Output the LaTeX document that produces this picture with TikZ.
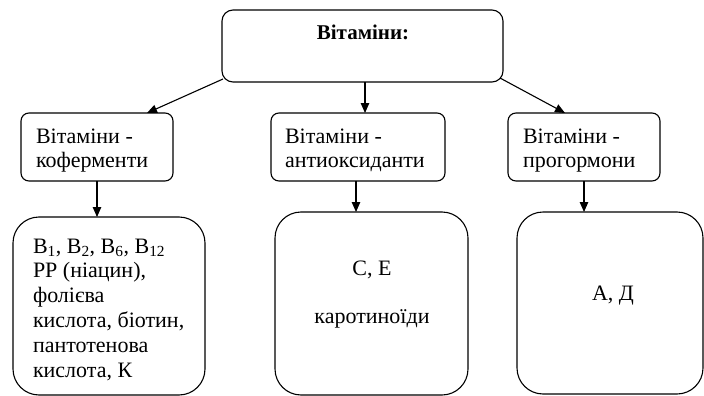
\documentclass[tikz,border=0pt]{standalone}
\usepackage{fontspec}
\setmainfont{Liberation Serif}
\usetikzlibrary{arrows.meta}
\begin{document}
\begin{tikzpicture}[x=1pt,y=-1pt,
  every node/.style={inner sep=0pt,outer sep=0pt},
  box/.style={draw,line width=1.1pt,rounded corners=#1},
  midbox/.style={box=8pt,minimum width=152pt,minimum height=68pt},
  conn/.style={line width=1.1pt,-{Triangle[length=10pt,width=8.5pt]}},
  txt/.style={font=\fontsize{22}{24.8}\selectfont}]
\useasboundingbox (0,0) rectangle (704,396);
% top
\node[box=11pt,minimum width=281pt,minimum height=72pt] (top) at (362.5,46) {};
\node[font=\bfseries\fontsize{21}{24}\selectfont,anchor=base] (toplbl) at (363,40) {Вітаміни:};
% middle row
\node[midbox] (mid1) at (97,147) {};
\node[midbox,minimum width=174pt] (mid2) at (358,147) {};
\node[midbox] (mid3) at (584,147) {};
\node[txt,align=left,anchor=base west] (m1a) at (36,143) {Вітаміни -};
\node[txt,align=left,anchor=base west] (m1b) at (36,167) {коферменти};
\node[txt,align=left,anchor=base west] (m2a) at (285,143) {Вітаміни -};
\node[txt,align=left,anchor=base west] (m2b) at (285,167) {антиоксиданти};
\node[txt,align=left,anchor=base west] (m3a) at (523,143) {Вітаміни -};
\node[txt,align=left,anchor=base west] (m3b) at (523,167) {прогормони};
% bottom row
\node[box=26pt,minimum width=192pt,minimum height=178pt] (bot1) at (109,306) {};
\node[box=26pt,minimum width=193pt,minimum height=183pt] (bot2) at (371.5,303.5) {};
\node[box=26pt,minimum width=186pt,minimum height=182pt] (bot3) at (610,303) {};
\node[txt,anchor=base west] (t1a) at (33,253) {B\textsubscript{1}, B\textsubscript{2}, B\textsubscript{6}, B\textsubscript{12}};
\node[txt,anchor=base west] (t1b) at (33,277.8) {РР (ніацин),};
\node[txt,anchor=base west] (t1c) at (33,302.6) {фолієва};
\node[txt,anchor=base west] (t1d) at (33,327.4) {кислота, біотин,};
\node[txt,anchor=base west] (t1e) at (33,352.2) {пантотенова};
\node[txt,anchor=base west] (t1f) at (33,377) {кислота, К};
\node[txt,anchor=base] (t2a) at (372,275) {С, Е};
\node[txt,anchor=base] (t2b) at (372,323) {каротиноїди};
\node[txt,anchor=base] (t3) at (613,300) {А, Д};
% connectors
\draw[conn] ([shift={(1,-3)}]top.south west) -- ([xshift=50pt]mid1.north);
\draw[conn] ([xshift=2.5pt]top.south) -- ([xshift=7pt]mid2.north);
\draw[conn] ([shift={(-3,-4)}]top.south east) -- ([xshift=-19pt]mid3.north);
\draw[conn] (mid1.south) -- (mid1.south |- bot1.north);
\draw[conn] ([xshift=-2pt]mid2.south) -- ([xshift=-2pt]mid2.south |- bot2.north);
\draw[conn] (mid3.south) -- (mid3.south |- bot3.north);
\end{tikzpicture}
\end{document}
